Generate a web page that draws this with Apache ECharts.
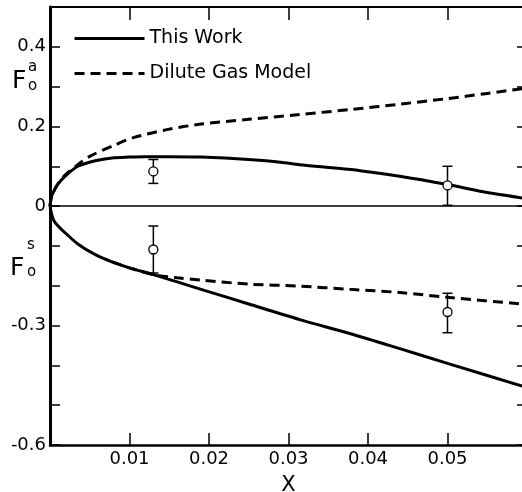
<!DOCTYPE html>
<html>
<head>
<meta charset="utf-8">
<script src="https://cdn.jsdelivr.net/npm/echarts@6/dist/echarts.min.js"></script>
<style>
  html, body { margin: 0; padding: 0; background: #fff; }
  #main { width: 522px; height: 492px; }
</style>
</head>
<body>
<div id="main"></div>
<script>
// values: [X, F]
var thisWorkA = [
  [0, 0], [0.0002, 0.025], [0.0006, 0.042], [0.001, 0.055], [0.0019, 0.075],
  [0.0035, 0.1], [0.0057, 0.114], [0.0078, 0.121], [0.01, 0.123], [0.012, 0.124],
  [0.015, 0.124], [0.019, 0.123], [0.025, 0.117], [0.029, 0.11], [0.0314, 0.104],
  [0.035, 0.097], [0.039, 0.089], [0.044, 0.075], [0.05, 0.054], [0.0545, 0.036],
  [0.0594, 0.02], [0.06, 0.017]
];
var diluteA = [
  [0, 0], [0.0002, 0.025], [0.0006, 0.042], [0.001, 0.056], [0.0019, 0.078],
  [0.0035, 0.104], [0.005, 0.125], [0.008, 0.152], [0.0105, 0.172], [0.0147, 0.192],
  [0.019, 0.206], [0.025, 0.218], [0.0314, 0.23], [0.038, 0.243], [0.044, 0.256],
  [0.05, 0.27], [0.055, 0.283], [0.0594, 0.295], [0.06, 0.297]
];
var thisWorkS = [
  [0, 0], [0.0002, -0.02], [0.0006, -0.04], [0.0019, -0.067], [0.0035, -0.095],
  [0.0057, -0.122], [0.0078, -0.14], [0.01, -0.155], [0.013, -0.172], [0.019, -0.209],
  [0.025, -0.246], [0.0314, -0.285], [0.0377, -0.32], [0.044, -0.358], [0.05, -0.395],
  [0.0594, -0.452], [0.06, -0.455]
];
var diluteS = [
  [0.0078, -0.14], [0.01, -0.155], [0.013, -0.172], [0.016, -0.18], [0.019, -0.186],
  [0.025, -0.196], [0.0314, -0.201], [0.0377, -0.209], [0.044, -0.217], [0.05, -0.229],
  [0.0594, -0.246], [0.06, -0.247]
];
var zeroLine = [[0, 0], [0.06, 0]];

// measured points with error bars
var pointX = [0.013, 0.013, 0.05, 0.05];
var pointY = [0.087, -0.109, 0.052, -0.266];
var errLow = [0.057, -0.168, 0.002, -0.318];
var errHigh = [0.117, -0.05, 0.1, -0.219];

var yTickLabels = [0.4, 0.2, 0, -0.3, -0.6];
var xTickLabels = [0.01, 0.02, 0.03, 0.04, 0.05];

var FONT = 'DejaVu Sans';

var pts = pointX.map(function (x, i) { return [x, pointY[i]]; });
var bars = pointX.map(function (x, i) { return [x, errLow[i], errHigh[i]]; });

var myChart = echarts.init(document.getElementById('main'));

var option = {
  animation: false,
  backgroundColor: '#fff',
  textStyle: { fontFamily: FONT, color: '#000' },
  grid: { left: 50, right: -5, top: 7, bottom: 47, containLabel: false, outerBoundsMode: 'none' },
  legend: {
    left: 68, top: 24, orient: 'vertical',
    itemWidth: 70, itemHeight: 10, itemGap: 16,
    data: ['This Work', 'Dilute Gas Model'],
    itemStyle: { opacity: 0 },
    lineStyle: { width: 3 },
    textStyle: { fontFamily: FONT, fontSize: 19, color: '#000' }
  },
  xAxis: [{
    type: 'value', min: 0, max: 0.06, interval: 0.01,
    name: 'X', nameLocation: 'middle', nameGap: 30,
    nameTextStyle: { fontFamily: FONT, fontSize: 21, color: '#000' },
    axisLine: { onZero: false, lineStyle: { color: '#000', width: 2.5 } },
    axisTick: { inside: true, length: 12, lineStyle: { color: '#000', width: 1.5 } },
    axisLabel: {
      fontFamily: FONT, fontSize: 18, color: '#000', margin: 5,
      formatter: function (v) {
        var r = Math.round(v * 100) / 100;
        return xTickLabels.indexOf(r) >= 0 ? String(r) : '';
      }
    },
    splitLine: { show: false }
  }, {
    type: 'value', position: 'top', min: 0, max: 0.06, interval: 0.01,
    axisLine: { onZero: false, lineStyle: { color: '#000', width: 2 } },
    axisTick: { inside: true, length: 13, lineStyle: { color: '#000', width: 1.5 } },
    axisLabel: { show: false },
    splitLine: { show: false }
  }],
  yAxis: [{
    type: 'value', min: -0.6, max: 0.5, interval: 0.1,
    axisLine: { onZero: false, lineStyle: { color: '#000', width: 3 } },
    axisTick: { inside: true, length: 10, lineStyle: { color: '#000', width: 1.5 } },
    axisLabel: {
      fontFamily: FONT, fontSize: 18, color: '#000', margin: 4,
      formatter: function (v) {
        var r = Math.round(v * 10) / 10;
        return yTickLabels.indexOf(r) >= 0 ? String(r) : '';
      }
    },
    splitLine: { show: false }
  }, {
    type: 'value', position: 'right', min: -0.6, max: 0.5, interval: 0.1,
    axisLine: { onZero: false, lineStyle: { color: '#000', width: 2 } },
    axisTick: { inside: true, length: 10, lineStyle: { color: '#000', width: 1.5 } },
    axisLabel: { show: false },
    splitLine: { show: false }
  }],
  graphic: [
    { type: 'text', left: 12, top: 69, style: { text: 'F', font: '25px ' + FONT, fill: '#000' } },
    { type: 'text', left: 28, top: 60, style: { text: 'a', font: '15px ' + FONT, fill: '#000' } },
    { type: 'text', left: 28, top: 79, style: { text: 'o', font: '15px ' + FONT, fill: '#000' } },
    { type: 'text', left: 10, top: 256, style: { text: 'F', font: '25px ' + FONT, fill: '#000' } },
    { type: 'text', left: 27, top: 238, style: { text: 's', font: '15px ' + FONT, fill: '#000' } },
    { type: 'text', left: 27, top: 265, style: { text: 'o', font: '15px ' + FONT, fill: '#000' } }
  ],
  series: [
    {
      name: 'zero', type: 'line', data: zeroLine, symbol: 'none', silent: true,
      lineStyle: { color: '#000', width: 1.5 }
    },
    {
      name: 'This Work', type: 'line', data: thisWorkA, symbol: 'none', smooth: 0.3,
      lineStyle: { color: '#000', width: 3 }, itemStyle: { color: '#000' }
    },
    {
      name: 'This Work', type: 'line', data: thisWorkS, symbol: 'none', smooth: 0.3,
      lineStyle: { color: '#000', width: 3 }, itemStyle: { color: '#000' }
    },
    {
      name: 'Dilute Gas Model', type: 'line', data: diluteA, symbol: 'none', smooth: 0.3,
      lineStyle: { color: '#000', width: 3, type: [10, 6] }, itemStyle: { color: '#000' }
    },
    {
      name: 'Dilute Gas Model', type: 'line', data: diluteS, symbol: 'none', smooth: 0.3,
      lineStyle: { color: '#000', width: 3, type: [10, 6] }, itemStyle: { color: '#000' }
    },
    {
      name: 'errors', type: 'custom', data: bars, z: 5,
      renderItem: function (params, api) {
        var lo = api.coord([api.value(0), api.value(1)]);
        var hi = api.coord([api.value(0), api.value(2)]);
        var st = { stroke: '#000', lineWidth: 1.5 };
        return {
          type: 'group',
          children: [
            { type: 'line', shape: { x1: lo[0], y1: lo[1], x2: hi[0], y2: hi[1] }, style: st },
            { type: 'line', shape: { x1: lo[0] - 5, y1: lo[1], x2: lo[0] + 5, y2: lo[1] }, style: st },
            { type: 'line', shape: { x1: hi[0] - 5, y1: hi[1], x2: hi[0] + 5, y2: hi[1] }, style: st }
          ]
        };
      }
    },
    {
      name: 'points', type: 'scatter', data: pts, symbol: 'circle', symbolSize: 9, z: 6,
      itemStyle: { color: '#fff', borderColor: '#000', borderWidth: 1.3, opacity: 1 }
    }
  ]
};

myChart.setOption(option);
</script>
</body>
</html>
